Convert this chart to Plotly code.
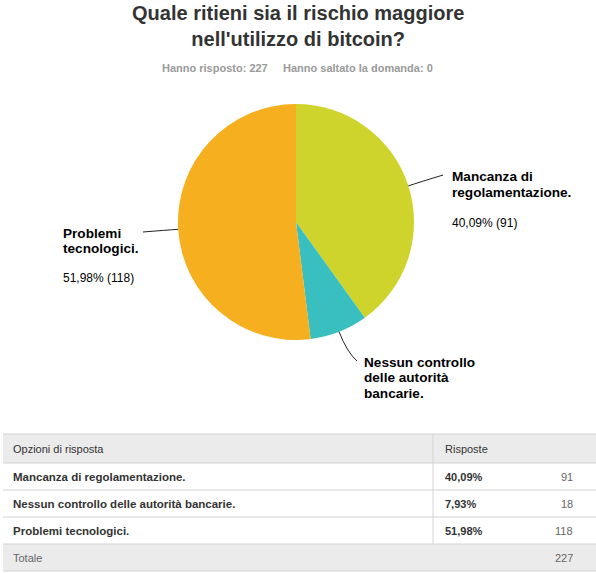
import math
import plotly.graph_objects as go

W, H = 596, 573

# ---------------- data ----------------
title_lines = ["Quale ritieni sia il rischio maggiore", "nell'utilizzo di bitcoin?"]
answered = 227
skipped = 0
labels = ["Mancanza di regolamentazione.",
          "Nessun controllo delle autorità bancarie.",
          "Problemi tecnologici."]
chart_label_lines = [["Mancanza di", "regolamentazione."],
                     ["Nessun controllo", "delle autorità", "bancarie."],
                     ["Problemi", "tecnologici."]]
show_pct_on_chart = [True, False, True]
counts = [91, 18, 118]
colors = ["#CFD42C", "#3ABFC1", "#F6AF1F"]
header_labels = ["Opzioni di risposta", "Risposte"]
total_label = "Totale"

total = sum(counts)
pct_text = [f"{c / total * 100:.2f}".replace(".", ",") + "%" for c in counts]

# ---------------- layout constants (pixels) ----------------
FONT = "Liberation Sans, Arial, sans-serif"
cx, cy, r = 296, 222, 118
# label anchors: (text x, first line center y, pct center y, leader end x, leader end y)
label_pos = [
    (450, 177, 223, 443, 175),
    (362, 362, None, 357, 361),
    (61, 233, 278, 143, 232),
]
line_step = 15.5
leader_ext = [12, 22, 12]


def X(px):
    return px / W


def Y(py):
    return 1 - py / H


fig = go.Figure()
fig.add_trace(go.Pie(
    values=counts, labels=labels, sort=False, direction="clockwise", rotation=0,
    textinfo="none", hoverinfo="label+percent",
    marker=dict(colors=colors, line=dict(width=0)),
    domain=dict(x=[X(cx - r), X(cx + r)], y=[Y(cy + r), Y(cy - r)]),
    showlegend=False,
))

annotations = []
shapes = []

# title
annotations.append(dict(
    text="<b>" + title_lines[0] + "<br>" + title_lines[1] + "</b>",
    x=X(W / 2), y=Y(26), xref="paper", yref="paper", xanchor="center", yanchor="middle",
    showarrow=False, font=dict(family=FONT, size=20, color="#333333"),
))
annotations.append(dict(
    text=f"<b>Hanno risposto: {answered}</b>", x=X(160), y=Y(68), xref="paper", yref="paper",
    xanchor="left", yanchor="middle", showarrow=False,
    font=dict(family=FONT, size=11, color="#9a9a9a"),
))
annotations.append(dict(
    text=f"<b>Hanno saltato la domanda: {skipped}</b>", x=X(281), y=Y(68), xref="paper", yref="paper",
    xanchor="left", yanchor="middle", showarrow=False,
    font=dict(family=FONT, size=11, color="#9a9a9a"),
))

# pie labels with leader lines computed from slice mid-angles
cum = 0
for i, c in enumerate(counts):
    mid = (cum + c / 2) / total * 2 * math.pi
    cum += c
    sx = cx + r * math.sin(mid)
    sy = cy - r * math.cos(mid)
    qx = cx + (r + leader_ext[i]) * math.sin(mid)
    qy = cy - (r + leader_ext[i]) * math.cos(mid)
    tx, ty, py_, ex, ey = label_pos[i]
    shapes.append(dict(
        type="path", xref="paper", yref="paper",
        path=f"M {X(sx)} {Y(sy)} Q {X(qx)} {Y(qy)} {X(ex)} {Y(ey)}",
        line=dict(color="#222222", width=1),
    ))
    for k, ln in enumerate(chart_label_lines[i]):
        annotations.append(dict(
            text="<b>" + ln + "</b>", x=X(tx), y=Y(ty + k * line_step), xref="paper", yref="paper",
            xanchor="left", yanchor="middle", align="left", showarrow=False,
            font=dict(family=FONT, size=13.6, color="#000000"),
        ))
    if show_pct_on_chart[i] and py_ is not None:
        annotations.append(dict(
            text=f"{pct_text[i]} ({c})", x=X(tx), y=Y(py_), xref="paper", yref="paper",
            xanchor="left", yanchor="middle", showarrow=False,
            font=dict(family=FONT, size=12, color="#000000"),
        ))

# ---------------- table ----------------
t_left, t_right, t_split = 3, 596, 433
top = 434
header_h, row_h = 29, 27
line_col = "#D3D3D3"
fill_col = "#EBEBEB"
txt_col = "#333333"

bounds = [top, top + header_h]
for _ in range(len(counts) + 1):
    bounds.append(bounds[-1] + row_h)

shapes.append(dict(type="rect", xref="paper", yref="paper", x0=X(t_left), x1=X(t_right),
                   y0=Y(bounds[0]), y1=Y(bounds[1]), fillcolor=fill_col, line=dict(width=0), layer="below"))
shapes.append(dict(type="rect", xref="paper", yref="paper", x0=X(t_left), x1=X(t_right),
                   y0=Y(bounds[-2]), y1=Y(bounds[-1]), fillcolor=fill_col, line=dict(width=0), layer="below"))
for b in bounds:
    shapes.append(dict(type="line", xref="paper", yref="paper", x0=X(t_left), x1=X(t_right),
                       y0=Y(b), y1=Y(b), line=dict(color=line_col, width=1)))
shapes.append(dict(type="line", xref="paper", yref="paper", x0=X(t_split), x1=X(t_split),
                   y0=Y(bounds[0]), y1=Y(bounds[-2]), line=dict(color=line_col, width=1)))


def cell(text, x, yc, anchor="left", bold=False, color=txt_col, size=11):
    annotations.append(dict(
        text=("<b>" + text + "</b>") if bold else text, x=X(x), y=Y(yc), xref="paper", yref="paper",
        xanchor=anchor, yanchor="middle", showarrow=False,
        font=dict(family=FONT, size=size, color=color),
    ))


cell(header_labels[0], 11, (bounds[0] + bounds[1]) / 2)
cell(header_labels[1], 443, (bounds[0] + bounds[1]) / 2)
for i in range(len(counts)):
    yc = (bounds[i + 1] + bounds[i + 2]) / 2
    cell(labels[i], 11, yc, bold=True, size=11.5)
    cell(pct_text[i], 443, yc, bold=True)
    cell(str(counts[i]), 575, yc, anchor="right", color="#666666")
yc = (bounds[-2] + bounds[-1]) / 2
cell(total_label, 11, yc, color="#666666")
cell(str(total), 575, yc, anchor="right", color="#666666")

fig.update_layout(
    width=W, height=H, margin=dict(l=0, r=0, t=0, b=0),
    paper_bgcolor="white", plot_bgcolor="white",
    annotations=annotations, shapes=shapes,
)

fig.write_html("out.html")
